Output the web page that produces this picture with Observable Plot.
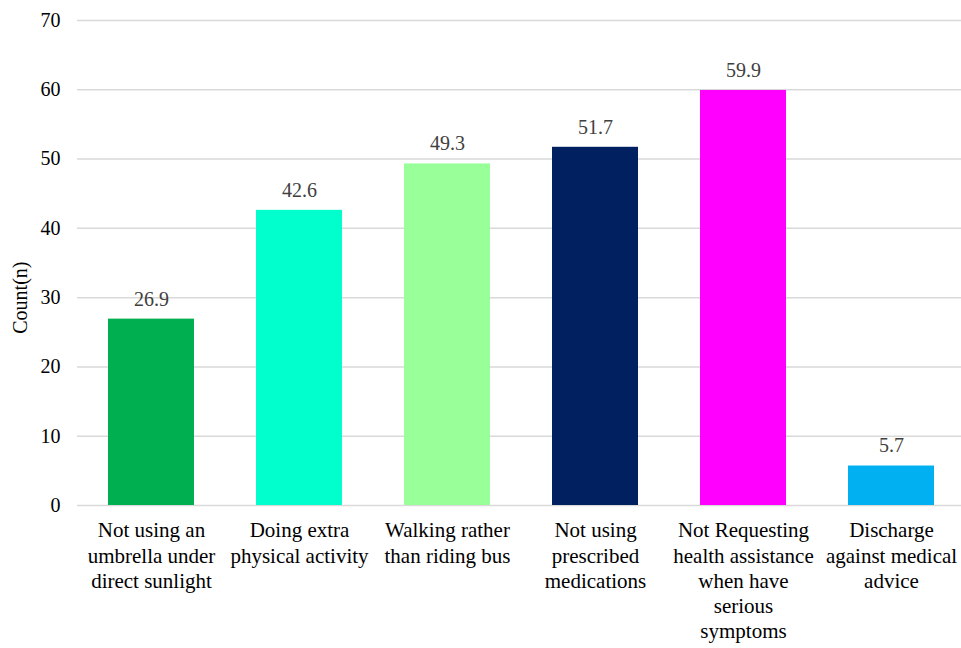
<!DOCTYPE html>
<html>
<head>
<meta charset="utf-8">
<script src="https://cdn.jsdelivr.net/npm/d3@7"></script>
<script src="https://cdn.jsdelivr.net/npm/@observablehq/plot@0.6"></script>
<style>
  html, body { margin: 0; padding: 0; background: #fff; }
  svg { overflow: visible; }
  svg, svg text, svg tspan { font-family: "Liberation Serif", "Times New Roman", serif !important; }
</style>
</head>
<body>
<div id="chart"></div>
<script>
const categories = [
  "Not using an\numbrella under\ndirect sunlight",
  "Doing extra\nphysical activity",
  "Walking rather\nthan riding bus",
  "Not using\nprescribed\nmedications",
  "Not Requesting\nhealth assistance\nwhen have\nserious\nsymptoms",
  "Discharge\nagainst medical\nadvice"
];
const values = [26.9, 42.6, 49.3, 51.7, 59.9, 5.7];
const colors = ["#00B050", "#00FFCC", "#99FF99", "#002060", "#FF00FF", "#00B0F0"];
const yTicks = [0, 10, 20, 30, 40, 50, 60, 70];
const yLabel = "Count(n)";

const data = categories.map((c, i) => ({cat: c, value: values[i], color: colors[i]}));

const chart = Plot.plot({
  width: 961,
  height: 648,
  marginTop: 20,
  marginBottom: 143,
  marginLeft: 77,
  marginRight: 0,
  style: {fontSize: "20px", color: "#000", background: "#fff", overflow: "visible"},
  x: {domain: categories, range: [74, 967], paddingInner: 0.42, paddingOuter: 0.21, label: null},
  y: {domain: [0, 70], label: null},
  marks: [
    Plot.ruleY(yTicks, {stroke: "#d9d9d9", strokeWidth: 1.5}),
    Plot.barY(data, {x: "cat", y: "value", fill: "color"}),
    Plot.text(data, {x: "cat", y: "value", text: d => d.value.toFixed(1), dy: -20, fill: "#404040", fontSize: 20}),
    Plot.axisY({ticks: yTicks, tickSize: 0, tickPadding: 17, label: null, fontSize: 20}),
    Plot.axisX({tickSize: 0, tickPadding: 14, label: null, fontSize: 21, lineHeight: 1.2, lineAnchor: "top"}),
    Plot.text([30], {y: d => d, text: () => yLabel, frameAnchor: "left", textAnchor: "middle", dx: -57, rotate: -90, fontSize: 20, fill: "#000"})
  ]
});
chart.style.fontFamily = '"Liberation Serif", "Times New Roman", serif';
document.getElementById("chart").appendChild(chart);
</script>
</body>
</html>
